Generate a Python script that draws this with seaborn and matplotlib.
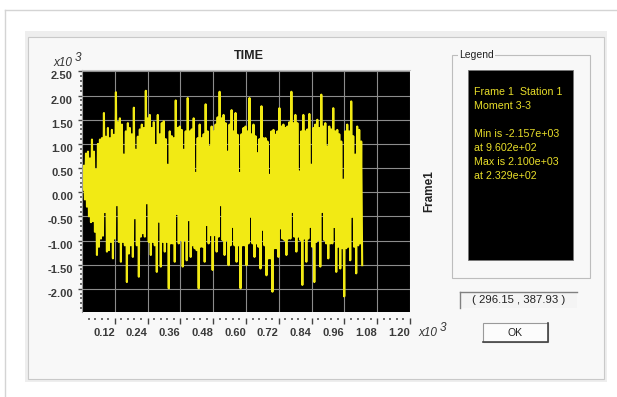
import numpy as np
import pandas as pd
import matplotlib
matplotlib.use("Agg")
import matplotlib.pyplot as plt
from matplotlib.patches import Rectangle
from matplotlib.lines import Line2D
from matplotlib.ticker import FixedLocator, FixedFormatter
import seaborn as sns

# peak / trough pairs (moment, x10^3), one pair per ~7.3 s
upper = [
    0.30, 0.55, 0.80, 0.84, 0.70, 1.09, 0.84, 0.47, 1.00, 1.09,
    1.12, 1.64, 1.15, 1.33, 1.12, 1.29, 1.19, 2.07, 1.45, 1.53,
    1.40, 0.78, 1.26, 1.43, 1.33, 1.20, 1.75, 0.88, 1.15, 1.30,
    1.40, 1.33, 2.10, 1.53, 1.60, 1.33, 1.45, 0.98, 1.60, 1.20,
    1.43, 1.47, 1.10, 0.57, 1.26, 1.16, 1.12, 1.90, 1.33, 1.36,
    1.29, 0.88, 1.26, 1.95, 1.26, 1.30, 1.53, 0.40, 1.12, 1.40,
    1.12, 1.20, 1.82, 1.26, 0.95, 1.36, 1.26, 1.40, 1.55, 2.08,
    1.53, 1.60, 1.43, 0.84, 1.40, 1.70, 1.26, 1.64, 1.19, 0.40,
    1.20, 1.33, 1.36, 1.26, 1.95, 1.20, 1.40, 1.16, 0.81, 1.10,
    1.78, 1.12, 1.12, 1.05, 0.36, 1.26, 1.29, 1.19, 1.26, 1.74,
    1.36, 1.40, 1.33, 1.36, 1.45, 2.08, 1.43, 1.60, 1.43, 0.43,
    1.26, 1.60, 1.26, 1.30, 1.62, 0.57, 1.33, 1.40, 1.50, 1.33,
    2.02, 1.36, 1.43, 0.95, 1.36, 1.30, 1.74, 1.26, 1.29, 1.20,
    1.05, 0.26, 1.26, 1.40, 1.26, 1.88, 1.16, 0.78, 1.36, 1.29,
    1.05,
]
lower = [
    0.05, -0.15, -0.30, -0.50, -0.62, -0.60, -0.82, -1.30, -1.13, -0.96,
    -0.90, -0.41, -1.23, -1.20, -1.03, -1.37, -0.96, -0.27, -1.03, -1.44,
    -1.03, -1.10, -1.86, -1.27, -1.10, -1.34, -0.54, -1.10, -1.75, -0.92,
    -0.85, -0.92, -0.23, -1.03, -1.30, -1.03, -1.10, -1.65, -0.61, -1.54,
    -1.03, -1.23, -1.03, -1.99, -1.06, -1.06, -1.44, -0.45, -1.06, -0.99,
    -1.54, -0.99, -1.41, -0.58, -1.34, -1.10, -1.16, -1.20, -1.99, -1.13,
    -1.13, -1.44, -0.68, -1.06, -0.89, -1.61, -0.89, -1.23, -0.92, -0.27,
    -0.99, -1.30, -0.99, -1.51, -1.10, -0.72, -1.10, -1.44, -1.10, -1.99,
    -1.10, -1.10, -1.51, -1.06, -0.51, -1.06, -1.34, -1.06, -1.13, -1.58,
    -0.78, -1.10, -1.72, -1.37, -1.37, -2.06, -1.16, -1.16, -1.34, -0.75,
    -0.96, -0.99, -1.30, -0.96, -0.96, -0.41, -0.92, -1.23, -0.92, -0.99,
    -1.92, -0.96, -1.44, -0.96, -0.72, -1.13, -1.86, -1.03, -0.99, -1.54,
    -0.41, -0.99, -1.06, -1.37, -1.06, -1.06, -0.72, -1.65, -1.13, -1.58,
    -1.16, -2.157, -1.16, -1.13, -1.41, -0.51, -1.13, -1.68, -1.10, -1.06,
    -1.51,
]
dt = 0.003648  # time step, x10^3 s

y_ticks = [-2.0, -1.5, -1.0, -0.5, 0.0, 0.5, 1.0, 1.5, 2.0, 2.5]
x_ticks = [0.12, 0.24, 0.36, 0.48, 0.60, 0.72, 0.84, 0.96, 1.08, 1.20]

legend_lines = [
    "Frame 1  Station 1",
    "Moment 3-3",
    "",
    "Min is -2.157e+03",
    "at 9.602e+02",
    "Max is 2.100e+03",
    "at 2.329e+02",
]
cursor_text = "( 296.15 , 387.93 )"

vals = np.column_stack([upper, lower]).ravel()
df = pd.DataFrame({"time": np.arange(len(vals)) * dt, "moment": vals})

plt.rcParams["font.family"] = ["Liberation Sans", "DejaVu Sans"]

W, H = 617, 397
fig = plt.figure(figsize=(W / 100, H / 100), dpi=100)
fig.patch.set_facecolor("white")


def box(x0, y0, x1, y1, **kw):
    r = Rectangle((x0 / W, 1 - y1 / H), (x1 - x0) / W, (y1 - y0) / H,
                  transform=fig.transFigure, **kw)
    fig.add_artist(r)
    return r


def line(xs, ys, **kw):
    fig.add_artist(Line2D([x / W for x in xs], [1 - y / H for y in ys],
                          transform=fig.transFigure, **kw))


def txt(x, y, s, **kw):
    return fig.text(x / W, 1 - y / H, s, **kw)


# window frame and dialog panel
line([5, 617], [10, 10], color="#d4d4d4", lw=1)
line([5, 5], [10, 397], color="#d4d4d4", lw=1)
box(25, 31, 607, 382, facecolor="#eeeeee", edgecolor="none", zorder=-3)
box(28, 37, 604, 379, facecolor="#f8f8f8", edgecolor="#c9c9c9", lw=0.8, zorder=-2)

# plot
ax = fig.add_axes([82 / W, 1 - 312 / H, 328 / W, 242 / H])
ax.set_facecolor("black")
sns.lineplot(data=df, x="time", y="moment", ax=ax, color="#f2ea14",
             linewidth=1.5, estimator=None, sort=False)
ax.set_xlim(0, 1.2)
ax.set_ylim(-2.48, 2.53)
ax.set_xlabel("")
ax.set_ylabel("")
ax.set_axisbelow(True)
ax.grid(True, color="#8c8c8c", linewidth=0.8)

ax.xaxis.set_major_locator(FixedLocator(x_ticks))
ax.xaxis.set_major_formatter(FixedFormatter([f"{v:.2f}" for v in x_ticks]))
ax.xaxis.set_minor_locator(FixedLocator([k * 0.024 for k in range(1, 51) if k % 5]))
ax.yaxis.set_major_locator(FixedLocator(y_ticks))
ax.yaxis.set_major_formatter(FixedFormatter([f"{v:.2f}" for v in y_ticks]))
ax.yaxis.set_minor_locator(FixedLocator([k * 0.1 for k in range(-24, 26) if k % 5]))

ax.spines["bottom"].set_position(("outward", 4.3))
ax.spines["bottom"].set_color("none")
ax.spines["right"].set_color("none")
ax.spines["top"].set_color("#c4c4c4")
ax.spines["left"].set_color("#9a9a9a")
for sp in ax.spines.values():
    sp.set_linewidth(0.8)

ax.tick_params(which="major", direction="out", color="#444444", width=1.0,
               labelsize=8, labelcolor="#3a3a3a")
ax.tick_params(axis="x", which="major", length=4.3, pad=2.9)
ax.tick_params(axis="y", which="major", length=2.9, pad=3.6)
ax.tick_params(which="minor", direction="out", color="#555555", width=1.2, length=1.6)
for lbl in ax.get_xticklabels():
    lbl.set_ha("right")
    lbl.set_fontweight("bold")
for lbl in ax.get_yticklabels():
    lbl.set_va("top")
    lbl.set_fontweight("bold")

# titles and exponents
txt(249, 56, "TIME", fontsize=9, fontweight="bold", color="#222222", ha="center", va="center")
txt(429, 191, "Frame1", fontsize=8.5, fontweight="bold", color="#222222",
    rotation=90, ha="center", va="center")
txt(53, 63, "x10", fontsize=8.5, style="italic", color="#333333", ha="left", va="center")
txt(75, 58, "3", fontsize=8.5, style="italic", color="#333333", ha="left", va="center")
txt(418, 333, "x10", fontsize=8.5, style="italic", color="#333333", ha="left", va="center")
txt(440, 328, "3", fontsize=8.5, style="italic", color="#333333", ha="left", va="center")

# legend group
box(452, 55, 590, 278, fill=False, edgecolor="#bdbdbd", lw=0.8)
txt(459, 55, "Legend", fontsize=7.5, color="#222222", ha="left", va="center",
    bbox=dict(facecolor="#f8f8f8", edgecolor="none", pad=1))
box(468, 70, 573, 260, facecolor="black", edgecolor="#777777", lw=0.6)
for i, s in enumerate(legend_lines):
    txt(474, 92 + i * 14, s, fontsize=7.7, color="#e8de2a", ha="left", va="center")

# cursor readout
box(460, 292, 577, 308, facecolor="#f4f4f4", edgecolor="none")
line([460, 577], [292, 292], color="#808080", lw=1)
line([460, 460], [292, 308], color="#808080", lw=1)
txt(519, 300, cursor_text, fontsize=8.2, color="#222222", ha="center", va="center")

# OK button
box(483, 323, 548, 342, facecolor="#fcfcfc", edgecolor="#9a9a9a", lw=0.8)
line([483, 548, 548], [342, 342, 323], color="#444444", lw=1.2)
txt(515, 333, "OK", fontsize=7.5, color="#222222", ha="center", va="center")

fig.savefig("out.png", dpi=100)
